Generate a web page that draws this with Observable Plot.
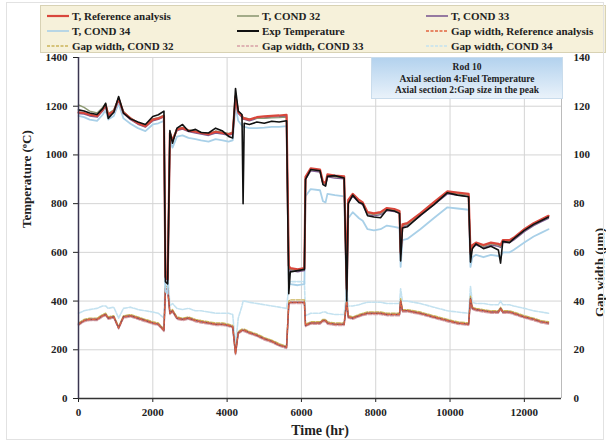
<!DOCTYPE html>
<html><head><meta charset="utf-8">
<script src="https://cdn.jsdelivr.net/npm/d3@7"></script>
<script src="https://cdn.jsdelivr.net/npm/@observablehq/plot@0.6"></script>
<style>
body{margin:0;background:#fff;}
#wrap{position:relative;width:606px;height:442px;overflow:hidden;font-family:"Liberation Serif","Times New Roman",serif;}
#frame{position:absolute;left:6px;top:2px;width:598px;height:438px;border:1px solid #e2e2e2;box-sizing:border-box;pointer-events:none;}
#legend{position:absolute;left:40px;top:5px;width:566px;height:48px;background:#f6f1da;border:1px solid #d8d2b4;box-sizing:border-box;}
.li{position:absolute;font-weight:bold;font-size:11px;line-height:12px;white-space:nowrap;color:#222;display:flex;align-items:center;}
.li svg{margin-right:2px;}
#note{position:absolute;left:371px;top:57px;width:192px;height:42px;background:linear-gradient(#b3d2ee,#e9f2fa);border:1px solid #c9dcec;box-sizing:border-box;text-align:center;font-weight:bold;font-size:9.5px;line-height:11.5px;padding-top:4px;color:#222;}
</style></head>
<body><div id="wrap"><div id="plot"></div><div id="legend"></div><div id="note"></div><div id="frame"></div></div>
<script>
// ---- data ----
const time = [0,150,300,500,650,730,800,950,1080,1210,1400,1600,1800,2000,2150,2300,2340,2400,2460,2530,2650,2800,2960,3150,3300,3500,3690,3880,4040,4150,4226,4300,4400,4430,4460,4600,4800,5000,5200,5400,5600,5660,5700,5900,6080,6110,6250,6500,6580,6650,6700,6900,7150,7220,7260,7380,7550,7650,7780,7950,8130,8300,8500,8640,8670,8720,8850,9200,9560,9930,10200,10500,10550,10600,10700,10900,11100,11300,11360,11420,11600,11710,12000,12250,12450,12650];
const expT = [1185,1180,1172,1166,1190,1212,1150,1175,1240,1172,1148,1135,1125,1158,1165,1180,480,470,1100,1048,1110,1125,1097,1105,1092,1090,1110,1098,1076,1070,1273,1180,1166,800,1130,1125,1135,1130,1138,1135,1140,430,520,525,530,900,940,935,878,872,912,915,905,400,800,835,805,800,750,745,742,775,770,760,565,700,705,752,795,845,835,828,560,615,635,615,625,610,556,645,640,655,690,715,730,745];
const refT = [1175,1172,1165,1160,1185,1205,1165,1180,1230,1175,1150,1130,1118,1145,1150,1160,500,490,1090,1060,1105,1110,1100,1095,1090,1085,1095,1090,1085,1090,1240,1175,1160,1150,1150,1145,1155,1158,1160,1162,1165,545,535,530,535,910,945,940,890,885,920,915,912,450,815,840,815,805,765,760,765,782,778,770,600,715,720,760,805,850,845,840,600,630,640,630,640,635,630,650,650,660,695,720,735,750];
const c32T = [1205,1195,1180,1172,1195,1212,1170,1185,1235,1178,1152,1133,1120,1148,1153,1163,505,495,1093,1063,1108,1113,1103,1098,1093,1088,1098,1093,1088,1093,1245,1178,1163,1153,1153,1148,1150,1150,1152,1153,1155,540,530,525,530,905,940,935,885,880,915,910,907,445,810,835,810,800,760,755,760,777,773,765,595,710,715,755,800,845,840,835,595,625,635,625,635,630,625,645,645,655,690,715,730,745];
const c33T = [1170,1168,1160,1155,1180,1200,1160,1175,1225,1170,1145,1126,1114,1140,1146,1156,495,485,1086,1056,1100,1106,1096,1090,1086,1080,1090,1086,1080,1086,1235,1170,1155,1146,1146,1140,1150,1152,1155,1157,1160,535,525,520,525,900,935,930,880,875,910,905,902,440,805,830,805,795,755,750,755,772,768,760,590,705,710,750,795,840,835,830,590,620,630,620,630,625,620,640,640,650,685,710,725,740];
const c34T = [1160,1155,1145,1140,1165,1185,1145,1160,1210,1150,1128,1110,1098,1125,1130,1140,440,430,1060,1030,1075,1080,1070,1065,1060,1055,1065,1060,1055,1060,1200,1140,1120,1115,1115,1110,1110,1112,1115,1115,1118,480,470,465,470,830,860,855,810,805,840,835,830,400,740,765,740,730,695,690,695,710,705,700,540,650,655,695,740,785,780,775,540,580,590,580,590,585,580,600,600,610,640,665,680,695];
const refGap = [30.5,32,32.5,32.5,34,34.5,33,33.5,29,33.5,34,33,32,31,30.5,28,45,45,35,36,33,32.5,33,32,31.5,31,30.5,30.5,30,29.5,18.5,27,28,28,28,27,26,24.5,23.5,22,21,39,39.5,39.5,39.5,30,31,31,32,32,31,30.5,30.5,40,33.5,33,34,34.5,35,35,35,34.5,34.5,34.5,40,36,36,35,33.5,32,31,30.5,41,37,36.5,36,35.5,35.5,37,35.5,35.5,35,33.5,32.5,31.5,31];
const c32Gap = [31,32.5,33,33,34.5,35,33.5,34,29.5,34,34.5,33.5,32.5,31.5,31,28.5,46,46,35.5,36.5,33.5,33,33.5,32.5,32,31.5,31,31,30.5,30,19,27.5,28.5,28.5,28.5,27.5,26.5,25,24,22.5,21.5,40,40.5,40.5,40.5,30.5,31.5,31.5,32.5,32.5,31.5,31,31,41,34,33.5,34.5,35,35.5,35.5,35.5,35,35,35,41,36.5,36.5,35.5,34,32.5,31.5,31,42,37.5,37,36.5,36,36,37.5,36,36,35.5,34,33,32,31.5];
const c33Gap = [30,31.5,32,32,33.5,34,32.5,33,28.5,33,33.5,32.5,31.5,30.5,30,27.5,44,44,34.5,35.5,32.5,32,32.5,31.5,31,30.5,30,30,29.5,29,18,26.5,27.5,27.5,27.5,26.5,25.5,24,23,21.5,20.5,38.5,39,39,39,29.5,30.5,30.5,31.5,31.5,30.5,30,30,39.5,33,32.5,33.5,34,34.5,34.5,34.5,34,34,34,39.5,35.5,35.5,34.5,33,31.5,30.5,30,40.5,36.5,36,35.5,35,35,36.5,35,35,34.5,33,32,31,30.5];
const c34Gap = [35,36,36.5,37,38,38,37,37.5,33,37,37.5,36.5,36,35.5,35,33,52,52,38,39,37,36.5,37,36,36,35.5,35,35,35,34.5,22,33,38,40,40,39.5,39,38.5,38,37.5,37,46,48,48,48,34,35,35,35.5,35.5,35,34.5,34.5,45,38,38,38.5,39,39.5,39.5,39.5,39,39,39,45,40,40,39,37.5,36,35.5,35,46,39.5,39,39,38.5,38.5,40,38.5,38.5,38,37,36,35.5,35];
const xTicks = [0,2000,4000,6000,8000,10000,12000];
const tempTicks = [0,200,400,600,800,1000,1200,1400];
const gapTicks = [0,20,40,60,80,100,120,140];
const legendLabels = ["T, Reference analysis","T, COND 32","T, COND 33","T, COND 34","Exp Temperature","Gap width, Reference analysis","Gap width, COND 32","Gap width, COND 33","Gap width, COND 34"];
const noteLines = ["Rod 10","Axial section 4:Fuel Temperature","Axial section 2:Gap size in the peak"];

// ---- styles ----
const colRef="#d9473c", col32="#8e9a73", col33="#7e5c92", col34="#a9d0e8", colExp="#111";
const gRef="#e2643f", g32="#cbb45a", g33="#d7a0a6", g34="#c4e2f0";

const rows = time.map((t,i)=>({t, exp:expT[i], ref:refT[i], c32:c32T[i], c33:c33T[i], c34:c34T[i],
  gRef:refGap[i], g32:c32Gap[i], g33:c33Gap[i], g34:c34Gap[i]}));

const font = "Liberation Serif, Times New Roman, serif";
const chart = Plot.plot({
  width:606, height:442,
  marginLeft:78, marginRight:45, marginTop:57, marginBottom:44,
  x:{domain:[0,13000]},
  y:{domain:[0,1400]},
  style:{fontFamily:font, fontWeight:"bold", fontSize:"11px", background:"transparent", color:"#222"},
  marks:[
    Plot.gridX(xTicks,{stroke:"#d4d4d4", strokeOpacity:1}),
    Plot.gridY(tempTicks,{stroke:"#d4d4d4", strokeOpacity:1}),
    Plot.ruleX([13000],{stroke:"#bbb"}),
    // gap widths (right axis, 10 deg per um)
    Plot.line(rows,{x:"t", y:d=>d.g34*10, stroke:g34, strokeWidth:1.6, strokeDasharray:"4,1.5"}),
    Plot.line(rows,{x:"t", y:d=>d.g32*10, stroke:g32, strokeWidth:1.4, strokeDasharray:"4,1.5"}),
    Plot.line(rows,{x:"t", y:d=>d.g33*10, stroke:g33, strokeWidth:1.4, strokeDasharray:"4,1.5"}),
    Plot.line(rows,{x:"t", y:d=>d.gRef*10, stroke:"#8a4a5a", strokeWidth:1.6}),
    Plot.line(rows,{x:"t", y:d=>d.gRef*10, stroke:gRef, strokeWidth:1.1, strokeDasharray:"3,2"}),
    // temperatures
    Plot.line(rows,{x:"t", y:"c34", stroke:col34, strokeWidth:1.8}),
    Plot.line(rows,{x:"t", y:"c33", stroke:col33, strokeWidth:1.4}),
    Plot.line(rows,{x:"t", y:"c32", stroke:col32, strokeWidth:1.4}),
    Plot.line(rows,{x:"t", y:"ref", stroke:colRef, strokeWidth:2.2}),
    Plot.line(rows,{x:"t", y:"exp", stroke:colExp, strokeWidth:1.6}),
    // axes
    Plot.axisX({ticks:xTicks, tickFormat:d=>String(d), tickSize:4, tickPadding:6, label:null, fontSize:11}),
    Plot.axisY({anchor:"left", ticks:tempTicks, tickFormat:d=>String(d), tickSize:5, tickPadding:6, label:null, fontSize:11}),
    Plot.axisY({anchor:"right", ticks:gapTicks.map(g=>g*10), tickFormat:v=>String(Math.round(v/10)), tickSize:0, tickPadding:12, label:null, fontSize:11}),
    Plot.ruleY([0],{stroke:"#333", strokeWidth:1.5}),
    Plot.ruleX([0],{stroke:"#3a3550", strokeWidth:1.5}),
    Plot.text(["Time (hr)"],{frameAnchor:"bottom", dy:36, fontSize:14, fontWeight:"bold", fontFamily:font}),
    Plot.text(["Temperature (ºC)"],{frameAnchor:"left", dx:-52, rotate:-90, fontSize:13, fontWeight:"bold", fontFamily:font}),
    Plot.text(["Gap width (μm)"],{frameAnchor:"right", dx:38, rotate:-90, fontSize:13, fontWeight:"bold", fontFamily:font})
  ]
});
document.getElementById("plot").appendChild(chart);

// ---- legend ----
const legendStyles = [
  {c:colRef,w:2.2,d:null},{c:col32,w:1.6,d:null},{c:col33,w:1.6,d:null},
  {c:col34,w:1.6,d:null},{c:colExp,w:2,d:null},{c:gRef,w:1.6,d:"3,1.5"},
  {c:g32,w:1.6,d:"3,1.5"},{c:g33,w:1.6,d:"3,1.5"},{c:g34,w:1.6,d:"3,1.5"}];
const colX=[5,195,384], rowY=[4,19,34];
const leg = document.getElementById("legend");
legendLabels.forEach((lab,i)=>{
  const s=legendStyles[i];
  const div=document.createElement("div");
  div.className="li";
  div.style.left=colX[i%3]+"px"; div.style.top=rowY[Math.floor(i/3)]+"px";
  div.innerHTML=`<svg width="24" height="8"><line x1="1" y1="4" x2="23" y2="4" stroke="${s.c}" stroke-width="${s.w}" ${s.d?`stroke-dasharray="${s.d}"`:""}/></svg>`;
  const sp=document.createElement("span"); sp.textContent=lab; div.appendChild(sp);
  leg.appendChild(div);
});
const note=document.getElementById("note");
noteLines.forEach(l=>{const d=document.createElement("div");d.textContent=l;note.appendChild(d);});
</script>
</body></html>
